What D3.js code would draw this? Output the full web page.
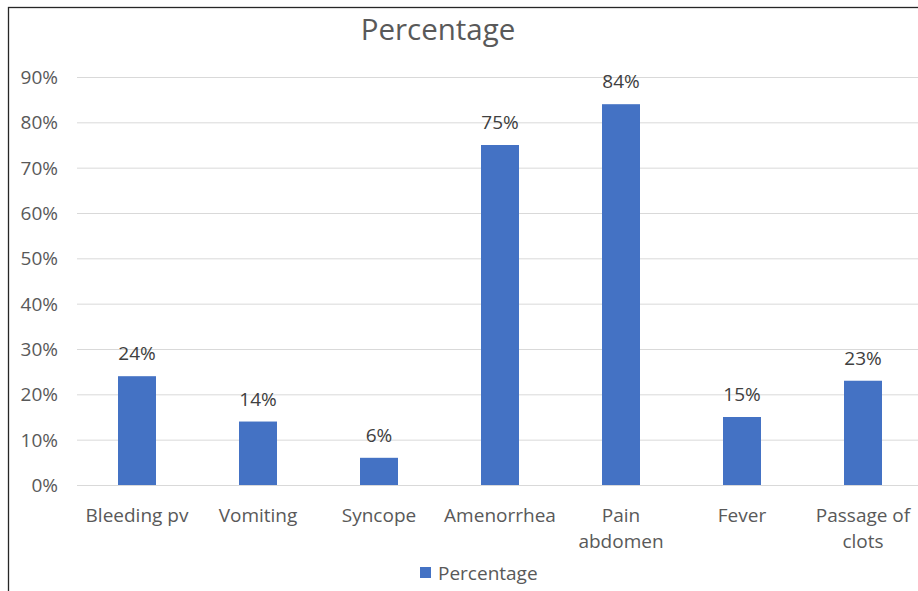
<!DOCTYPE html>
<html>
<head>
<meta charset="utf-8">
<script src="https://cdn.jsdelivr.net/npm/d3@7"></script>
<style>
  body { margin: 0; background: #fff; }
  text { font-family: "Open Sans", "Noto Sans", sans-serif; }
</style>
</head>
<body>
<div id="chart"></div>
<script>
const width = 918;
const height = 591;

// data
const categories = ["Bleeding pv", "Vomiting", "Syncope", "Amenorrhea", "Pain abdomen", "Fever", "Passage of clots"];
const labelLines = [["Bleeding pv"], ["Vomiting"], ["Syncope"], ["Amenorrhea"], ["Pain", "abdomen"], ["Fever"], ["Passage of", "clots"]];
const values = [24, 14, 6, 75, 84, 15, 23];
const yTicks = [0, 10, 20, 30, 40, 50, 60, 70, 80, 90];

const svg = d3.select("#chart").append("svg")
  .attr("width", width)
  .attr("height", height);

// outer border
svg.append("rect")
  .attr("x", 8.5).attr("y", 7.5)
  .attr("width", 1000).attr("height", 1000)
  .attr("fill", "none")
  .attr("stroke", "#262626")
  .attr("stroke-width", 1.3);

// scales
const xScale = d3.scaleBand()
  .domain(categories)
  .range([76.5, 923.5])
  .paddingInner(0.686)
  .paddingOuter(0.343);

const yScale = d3.scaleLinear()
  .domain([0, 90])
  .range([485, 77]);

// gridlines
svg.selectAll("line.grid")
  .data(yTicks)
  .join("line")
  .attr("class", "grid")
  .attr("x1", 77).attr("x2", 918)
  .attr("y1", d => yScale(d) + 0.5)
  .attr("y2", d => yScale(d) + 0.5)
  .attr("stroke", "#d9d9d9")
  .attr("stroke-width", 1);

// y labels
svg.selectAll("text.ytick")
  .data(yTicks)
  .join("text")
  .attr("class", "ytick")
  .attr("x", 58)
  .attr("y", d => yScale(d) + 7)
  .attr("text-anchor", "end")
  .attr("font-size", 19)
  .attr("fill", "#595959")
  .text(d => d + "%");

// bars
svg.selectAll("rect.bar")
  .data(values)
  .join("rect")
  .attr("class", "bar")
  .attr("x", (d, i) => xScale(categories[i]))
  .attr("width", xScale.bandwidth())
  .attr("y", d => yScale(d))
  .attr("height", d => yScale(0) - yScale(d))
  .attr("fill", "#4472c4");

// value labels
svg.selectAll("text.val")
  .data(values)
  .join("text")
  .attr("class", "val")
  .attr("x", (d, i) => xScale(categories[i]) + xScale.bandwidth() / 2)
  .attr("y", d => yScale(d) - 16)
  .attr("text-anchor", "middle")
  .attr("font-size", 19)
  .attr("fill", "#404040")
  .text(d => d + "%");

// category labels
const catText = svg.selectAll("text.cat")
  .data(labelLines)
  .join("text")
  .attr("class", "cat")
  .attr("text-anchor", "middle")
  .attr("font-size", 19)
  .attr("fill", "#595959");

catText.selectAll("tspan")
  .data((d, i) => d.map(s => ({ s, i })))
  .join("tspan")
  .attr("x", d => xScale(categories[d.i]) + xScale.bandwidth() / 2)
  .attr("y", (d, j) => 522 + j * 26)
  .text(d => d.s);

// title
svg.append("text")
  .attr("x", 438)
  .attr("y", 40)
  .attr("text-anchor", "middle")
  .attr("font-size", 29.5)
  .attr("fill", "#595959")
  .text("Percentage");

// legend
svg.append("rect")
  .attr("x", 420).attr("y", 567)
  .attr("width", 11).attr("height", 11)
  .attr("fill", "#4472c4");
svg.append("text")
  .attr("x", 438)
  .attr("y", 580)
  .attr("font-size", 19)
  .attr("fill", "#595959")
  .text("Percentage");
</script>
</body>
</html>
